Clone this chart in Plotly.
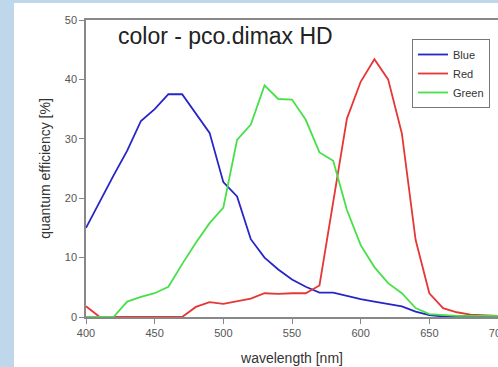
import plotly.graph_objects as go

wavelength = list(range(400, 701, 10))
blue = [15, 19.5, 23.8, 28, 33, 35, 37.5, 37.5, 34.3, 31, 22.7, 20.3, 13.1, 10, 8, 6.3,
        5.1, 4.1, 4.1, 3.5, 3.0, 2.6, 2.2, 1.8, 0.9, 0.3, 0.1, 0.1, 0.1, 0.1, 0.1]
red = [1.8, 0, 0, 0, 0, 0, 0, 0, 1.7, 2.5, 2.2, 2.7, 3.1, 4.0, 3.9, 4.0,
       4.0, 5.3, 19.5, 33.4, 39.6, 43.4, 40, 30.9, 13, 4.0, 1.5, 0.8, 0.4, 0.3, 0.2]
green = [0, 0, 0, 2.6, 3.4, 4.0, 5.1, 8.9, 12.5, 15.8, 18.4, 29.8, 32.4, 39, 36.7, 36.6,
         33.2, 27.7, 26.3, 18, 12.1, 8.4, 5.7, 4.0, 1.5, 0.5, 0.3, 0.2, 0.2, 0.2, 0.2]
x_ticks = [400, 450, 500, 550, 600, 650, 700]
y_ticks = [0, 10, 20, 30, 40, 50]

FONT = "Liberation Sans, Arial, sans-serif"

fig = go.Figure()
fig.add_trace(go.Scatter(x=wavelength, y=blue, mode="lines", name="Blue",
                         line=dict(color="#2626c8", width=1.8)))
fig.add_trace(go.Scatter(x=wavelength, y=red, mode="lines", name="Red",
                         line=dict(color="#e63636", width=1.8)))
fig.add_trace(go.Scatter(x=wavelength, y=green, mode="lines", name="Green",
                         line=dict(color="#48e048", width=1.8)))

W, H = 498, 367
L, R, T, B = 86, 0, 20, 50
pw, ph = W - L - R, H - T - B

def px_x(p):
    return (p - L) / pw

def px_y(p):
    return (H - B - p) / ph

fig.add_shape(type="rect", xref="paper", yref="paper",
              x0=px_x(14), x1=px_x(520), y0=px_y(400), y1=px_y(3),
              fillcolor="white", line=dict(width=0), layer="below")

fig.add_annotation(text="color - pco.dimax HD", xref="paper", yref="paper",
                   x=px_x(116), y=px_y(36), xanchor="left", yanchor="middle",
                   showarrow=False, font=dict(family=FONT, size=23, color="#222222"))

fig.update_layout(
    width=W, height=H,
    margin=dict(l=L, r=R, t=T, b=B, pad=0, autoexpand=False),
    paper_bgcolor="#bed7ea",
    plot_bgcolor="white",
    font=dict(family=FONT, size=11, color="#555555"),
    legend=dict(x=px_x(490), y=px_y(39), xanchor="right", yanchor="top",
                bgcolor="white", bordercolor="#777777", borderwidth=1,
                font=dict(family=FONT, size=11, color="#333333"),
                tracegroupgap=0),
    xaxis=dict(range=[400, 700], tickvals=x_ticks, showgrid=False, zeroline=False,
               showline=True, linecolor="#888888", linewidth=1.5, mirror=True,
               ticks="outside", ticklen=5, tickcolor="#888888", automargin=False,
               ticklabeloverflow="allow",
               tickfont=dict(size=11, color="#555555"),
               title=dict(text="wavelength [nm]", standoff=15,
                          font=dict(size=14, color="#333333"))),
    yaxis=dict(range=[0, 50], tickvals=y_ticks, showgrid=False, zeroline=False,
               showline=True, linecolor="#888888", linewidth=1.5, automargin=False,
               ticks="outside", ticklen=5, tickcolor="#888888",
               tickfont=dict(size=11, color="#555555"),
               title=dict(text="quantum efficiency [%]", standoff=11,
                          font=dict(size=14, color="#333333"))),
)

fig.write_html("out.html", config={"displayModeBar": False},
               post_script="document.body.style.margin='0';")
